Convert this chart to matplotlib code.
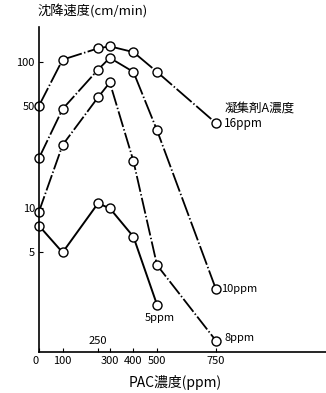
"""Settling velocity vs PAC dose, one curve per flocculant A dose (log y)."""
import matplotlib

matplotlib.use("Agg")
import matplotlib.pyplot as plt

plt.rcParams["font.family"] = ["Noto Sans CJK JP", "DejaVu Sans"]

pac_ppm = [0, 100, 250, 300, 400, 500, 750]
pac_ppm_5 = [0, 100, 250, 300, 400, 500]

# settling velocity (cm/min)
v_16ppm = [50, 103, 123, 127, 116, 85, 38]
v_10ppm = [22, 47.5, 88, 106, 85, 34, 2.8]
v_8ppm = [9.5, 27, 57, 72, 21, 4.1, 1.25]
v_5ppm = [7.6, 5.0, 10.8, 10.0, 6.4, 2.2]

x_ticks = [0, 100, 250, 300, 400, 500, 750]
x_tick_labels = ["0", "100", "", "300", "400", "500", "750"]
y_ticks = [5, 10, 50, 100]
y_tick_labels = ["5", "10", "50", "100"]

W, H = 326, 393


def main() -> None:
    fig = plt.figure(figsize=(W / 100, H / 100), dpi=100)
    ax = fig.add_axes([39 / W, 41 / H, 1 - 39 / W, (352 - 27) / H])

    dash = (0, (11, 1.3, 0.8, 1.3))
    kw = dict(color="black", marker="o", markersize=6.5, markerfacecolor="white",
              markeredgecolor="black", markeredgewidth=1.0, clip_on=False)
    ax.plot(pac_ppm, v_16ppm, linestyle=dash, lw=1.3, **kw)
    ax.plot(pac_ppm, v_10ppm, linestyle=dash, lw=1.3, **kw)
    ax.plot(pac_ppm, v_8ppm, linestyle=(0, (9, 1.3, 0.8, 1.3)), lw=1.3, **kw)
    ax.plot(pac_ppm_5, v_5ppm, linestyle="-", lw=1.4, **kw)

    ax.set_yscale("log")
    ax.set_ylim(1.048, 172)
    ax.set_xlim(0, 1216)
    ax.minorticks_off()
    ax.set_yticks(y_ticks)
    ax.set_yticklabels(y_tick_labels, fontsize=8)
    ax.set_xticks(x_ticks)
    ax.set_xticklabels(x_tick_labels, fontsize=8)
    ax.get_xticklabels()[0].set_horizontalalignment("right")
    ax.tick_params(axis="both", direction="in", length=3, width=0.8, pad=3)
    ax.text(250, 1.16, "250", ha="center", va="bottom", fontsize=8)

    for side in ("top", "right"):
        ax.spines[side].set_visible(False)
    for side in ("left", "bottom"):
        ax.spines[side].set_linewidth(1.2)

    # series labels
    ax.text(785, 48, "凝集剤A濃度", fontsize=9, va="center", ha="left")
    ax.text(785, 38, "16ppm", fontsize=8.5, va="center", ha="left")
    ax.text(770, 2.8, "10ppm", fontsize=8, va="center", ha="left")
    ax.text(785, 1.3, "8ppm", fontsize=8, va="center", ha="left")
    ax.text(510, 1.8, "5ppm", fontsize=8, va="center", ha="center")

    fig.text(37 / W, 1 - 12 / H, "沈降速度(cm/min)", fontsize=9.5, ha="left", va="center")
    fig.text(175 / W, 1 - 382 / H, "PAC濃度(ppm)", fontsize=10, ha="center", va="center")

    fig.savefig("out.png", dpi=100)
    plt.close(fig)


if __name__ == "__main__":
    main()
